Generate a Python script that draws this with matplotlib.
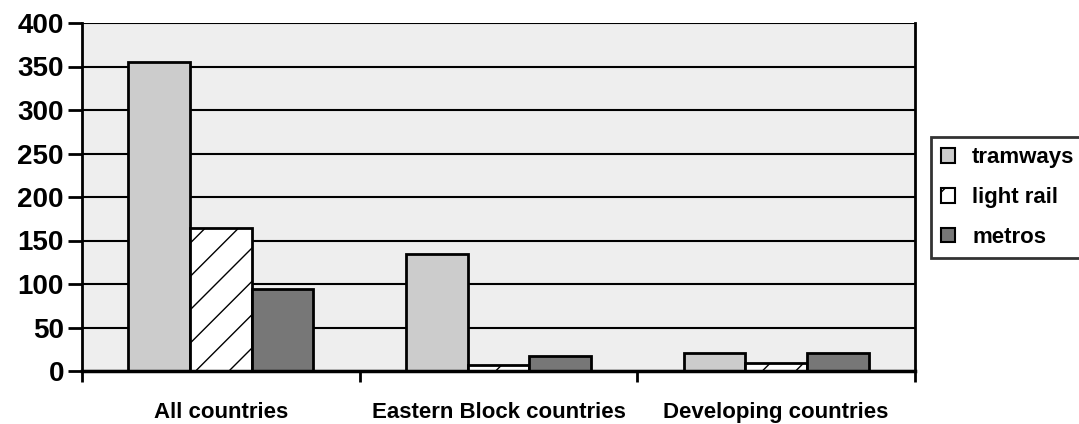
import numpy as np
import matplotlib
matplotlib.use('Agg')
import matplotlib.pyplot as plt
from matplotlib.ticker import MultipleLocator, FixedLocator

plt.rcParams['font.family'] = ['Liberation Sans', 'DejaVu Sans']
plt.rcParams['font.weight'] = 'bold'
plt.rcParams['hatch.linewidth'] = 1.0

categories = ['All countries', 'Eastern Block countries', 'Developing countries']
series = ['tramways', 'light rail', 'metros']
tramways = [355, 134, 21]
light_rail = [164, 7, 9]
metros = [94, 17, 21]

values = [tramways, light_rail, metros]
colors = ['#cccccc', 'white', '#777777']
hatches = [None, '/', None]

fig = plt.figure(figsize=(10.79, 4.24), dpi=100)
ax = fig.add_axes([82 / 1079, 53 / 424, 833 / 1079, 348 / 424])
ax.set_facecolor('#eeeeee')

x = np.arange(len(categories))
bar_width = 1 / 4.5  # excel style gap width 150
for i in range(len(series)):
    ax.bar(x + (i - 1) * bar_width, values[i], width=bar_width, color=colors[i],
           edgecolor='black', linewidth=2, hatch=hatches[i], label=series[i], zorder=3)

ax.set_xlim(-0.5, 2.5)
ax.set_ylim(0, 400)
ax.yaxis.set_major_locator(MultipleLocator(50))
ax.grid(axis='y', color='black', linewidth=1.5, zorder=1)
ax.set_axisbelow(True)

ax.set_xticks(x)
ax.set_xticklabels(categories, fontsize=16, fontweight='bold')
ax.xaxis.set_minor_locator(FixedLocator([-0.5, 0.5, 1.5, 2.5]))
ax.tick_params(axis='x', which='major', length=0, pad=22)
ax.tick_params(axis='x', which='minor', length=8, width=2, direction='out')
ax.tick_params(axis='y', length=10, width=2, direction='out', labelsize=20, pad=3)
for lab in ax.get_yticklabels():
    lab.set_fontweight('bold')

for side in ['left', 'right', 'bottom']:
    ax.spines[side].set_linewidth(2)
ax.spines['top'].set_visible(False)
ax.spines['bottom'].set_visible(False)
ax.axhline(0, color='black', linewidth=2.5, zorder=4, clip_on=False)
ax.spines['right'].set_zorder(5)

leg = fig.legend(loc='upper left', bbox_to_anchor=(931 / 1079, (424 - 137) / 424),
                 fontsize=16, frameon=True, fancybox=False, edgecolor='black',
                 handlelength=0.65, handleheight=0.65, handletextpad=0.75,
                 borderpad=0.45, labelspacing=0.85, borderaxespad=0)
leg.get_frame().set_linewidth(2)
for h in leg.legend_handles:
    h.set_linewidth(1.5)

plt.savefig('out.png', dpi=100)
plt.close()
